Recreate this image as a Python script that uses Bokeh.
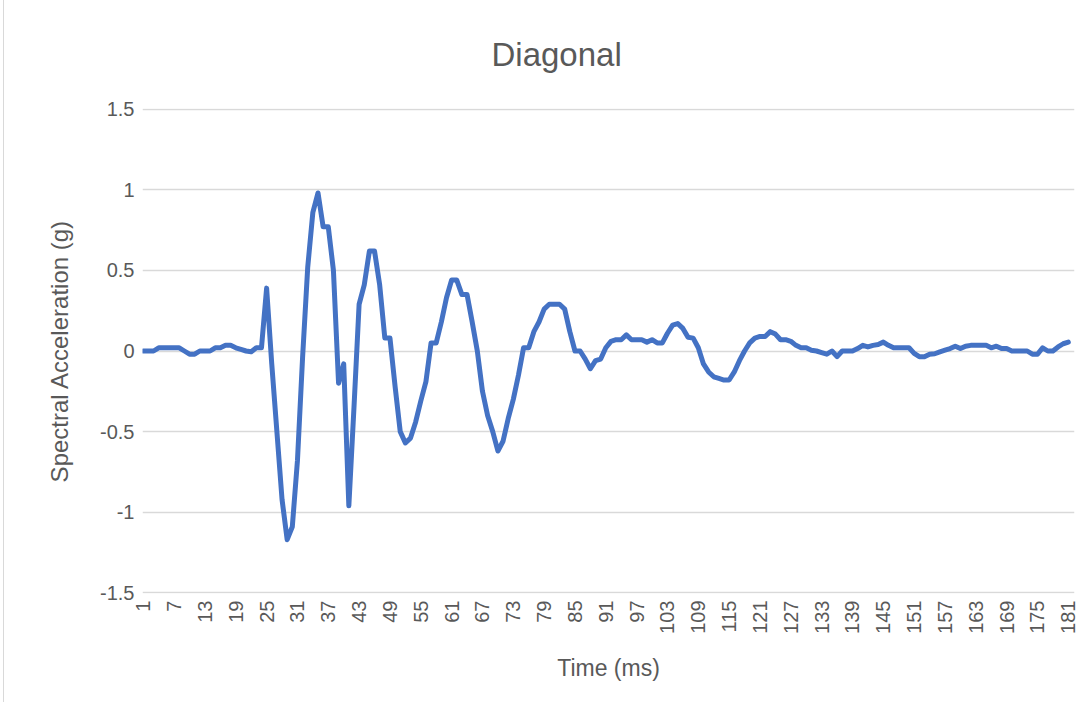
import math
from bokeh.plotting import figure
from bokeh.models import FixedTicker, ColumnDataSource
from bokeh.embed import file_html
from bokeh.resources import INLINE

title_text = "Diagonal"
x_label = "Time (ms)"
y_label = "Spectral Acceleration (g)"

accel = [
    0, 0, 0, 0.02, 0.02, 0.02, 0.02, 0.02, 0.0, -0.02,
    -0.02, 0.0, 0.0, 0.0, 0.02, 0.02, 0.035, 0.035, 0.02, 0.01,
    0.0, -0.005, 0.02, 0.02, 0.39, -0.08, -0.5, -0.92, -1.17, -1.09,
    -0.68, -0.04, 0.52, 0.86, 0.98, 0.77, 0.77, 0.5, -0.2, -0.08,
    -0.96, -0.35, 0.29, 0.41, 0.62, 0.62, 0.41, 0.08, 0.08, -0.22,
    -0.5, -0.57, -0.54, -0.44, -0.31, -0.19, 0.05, 0.05, 0.18, 0.33,
    0.44, 0.44, 0.35, 0.35, 0.18, 0.0, -0.25, -0.4, -0.5, -0.62,
    -0.56, -0.42, -0.3, -0.15, 0.02, 0.02, 0.12, 0.18, 0.26, 0.29,
    0.29, 0.29, 0.26, 0.12, 0.0, 0.0, -0.05, -0.11, -0.06, -0.05,
    0.02, 0.06, 0.07, 0.07, 0.1, 0.07, 0.07, 0.07, 0.055, 0.07,
    0.05, 0.05, 0.11, 0.16, 0.17, 0.14, 0.085, 0.08, 0.02, -0.08,
    -0.13, -0.16, -0.17, -0.18, -0.18, -0.13, -0.06, 0.0, 0.05, 0.08,
    0.09, 0.09, 0.12, 0.105, 0.07, 0.07, 0.06, 0.035, 0.02, 0.02,
    0.005, 0.0, -0.01, -0.02, 0.0, -0.035, 0.0, 0.0, 0.0, 0.015,
    0.035, 0.025, 0.035, 0.04, 0.055, 0.035, 0.02, 0.02, 0.02, 0.02,
    -0.015, -0.035, -0.035, -0.02, -0.017, -0.005, 0.005, 0.015, 0.03, 0.015,
    0.03, 0.035, 0.035, 0.035, 0.035, 0.02, 0.03, 0.015, 0.015, 0.0,
    0.0, 0.0, 0.0, -0.02, -0.02, 0.02, 0.0, 0.0, 0.025, 0.045,
    0.055,
]
time_ms = list(range(1, len(accel) + 1))

x_ticks = list(range(1, 182, 6))
y_ticks = [-1.5, -1.0, -0.5, 0.0, 0.5, 1.0, 1.5]
y_tick_labels = ["-1.5", "-1", "-0.5", "0", "0.5", "1", "1.5"]

FONT = "Liberation Sans"
TEXT = "#595959"
GRID = "#D9D9D9"
LINE = "#4472C4"

p = figure(
    width=1079, height=706,
    x_range=(0.85, 182.2), y_range=(-1.504, 1.504),
    output_backend="svg", toolbar_location=None,
    min_border_left=138, min_border_right=9,
    min_border_top=111, min_border_bottom=110,
    title=title_text,
)
p.styles = {
    "margin-left": "3px",
    "margin-top": "-4px",
    "border-left": "1px solid #D9D9D9",
    "border-top": "1px solid #D9D9D9",
}
p.outline_line_color = None
p.background_fill_color = "white"
p.border_fill_color = "white"

p.title.align = "left"
p.title.offset = 349
p.title.standoff = 72
p.title.text_font = FONT
p.title.text_font_size = "33px"
p.title.text_font_style = "normal"
p.title.text_color = TEXT

src = ColumnDataSource(dict(x=time_ms, y=accel))
p.line("x", "y", source=src, line_color=LINE, line_width=5, line_join="round", line_cap="round")

xa = p.xaxis[0]
xa.ticker = FixedTicker(ticks=x_ticks)
xa.major_label_orientation = math.pi / 2
xa.axis_line_color = None
xa.major_tick_line_color = None
xa.minor_tick_line_color = None
xa.major_label_text_font = FONT
xa.major_label_text_font_size = "20px"
xa.major_label_text_color = TEXT
xa.major_label_standoff = 1
xa.axis_label = x_label
xa.axis_label_text_font = FONT
xa.axis_label_text_font_size = "23px"
xa.axis_label_text_font_style = "normal"
xa.axis_label_text_color = TEXT
xa.axis_label_standoff = 18

ya = p.yaxis[0]
ya.ticker = FixedTicker(ticks=y_ticks)
ya.major_label_overrides = {t: s for t, s in zip(y_ticks, y_tick_labels)}
ya.axis_line_color = None
ya.major_tick_line_color = None
ya.minor_tick_line_color = None
ya.major_label_text_font = FONT
ya.major_label_text_font_size = "20px"
ya.major_label_text_color = TEXT
ya.major_label_standoff = 2
ya.axis_label = y_label
ya.axis_label_text_font = FONT
ya.axis_label_text_font_size = "24px"
ya.axis_label_text_font_style = "normal"
ya.axis_label_text_color = TEXT
ya.axis_label_standoff = 24

p.xgrid.grid_line_color = None
p.ygrid.grid_line_color = GRID
p.ygrid.grid_line_width = 1.5

open("out.html", "w").write(file_html(p, INLINE))
